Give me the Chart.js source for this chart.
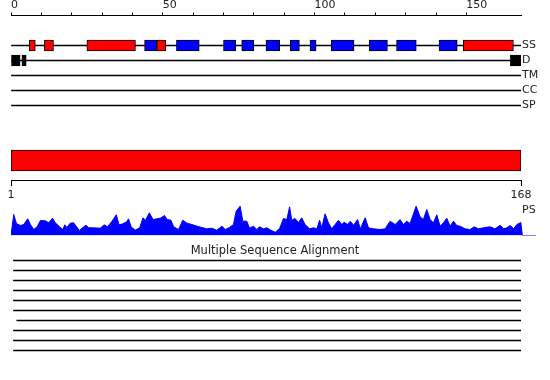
<!DOCTYPE html>
<html>
<head>
<meta charset="utf-8">
<script src="https://cdn.jsdelivr.net/npm/chart.js@4.4.0/dist/chart.umd.min.js"></script>
<style>
  body { margin: 0; background: #fff; }
  #wrap { position: relative; width: 550px; height: 380px; overflow: hidden; }
  canvas { position: absolute; left: 0; }
  #psLabel { position: absolute; left: 522px; top: 203px; font: 11px "DejaVu Sans"; color: #222; }
</style>
</head>
<body>
<div id="wrap">
  <canvas id="features" width="550" height="113" style="top:0"></canvas>
  <canvas id="domain" width="550" height="70" style="top:140px"></canvas>
  <canvas id="profile" width="550" height="37" style="top:199px"></canvas>
  <div id="psLabel">PS</div>
  <canvas id="msa" width="550" height="115" style="top:242px"></canvas>
</div>
<script>
const seqLength = 168;
const tracks = ['SS', 'D', 'TM', 'CC', 'SP'];

// secondary structure (residue ranges)
const helix = [[6, 8], [11, 14], [25, 41], [48, 51], [149, 165.5]];
const strand = [[44, 48], [54.5, 62], [70, 74], [76, 80], [84, 88.5], [92, 95], [98.5, 100.5],
  [105.5, 113], [118, 124], [127, 133.5], [141, 147]];
const disorder = [[0, 3], [3.6, 5], [164.5, 168]];

const domains = [[1, 168]];

// PS profile
const psPos = [0, 0.9, 1.8, 3.1, 4.2, 5.5, 6.4, 7.5, 8.6, 9.7, 11.3, 12.4, 13.7, 14.6, 16.0, 17.1, 17.7,
  18.4, 19.5, 20.6, 21.5, 22.5, 23.7, 24.7, 25.6, 27.2, 29.4, 30.7, 31.8, 33.3, 34.7, 35.6, 36.9, 38.2,
  38.7, 39.6, 40.9, 42.4, 43.5, 44.3, 45.6, 46.8, 48.1, 49.2, 50.6, 51.4, 52.7, 53.6, 55.2, 56.6, 58.0,
  59.6, 61.3, 62.9, 64.5, 66.2, 67.8, 69.5, 70.6, 72.0, 73.3, 74.2, 75.5, 76.4, 77.7, 78.6, 79.9, 81.0,
  81.9, 83.2, 84.3, 85.6, 87.1, 88.5, 89.8, 90.9, 91.8, 92.5, 93.6, 94.7, 95.8, 96.9, 98.4, 99.7, 100.8,
  101.7, 102.4, 103.5, 104.6, 105.7, 106.8, 107.9, 109.0, 109.8, 110.9, 111.8, 112.9, 114.2, 115.1,
  116.7, 117.8, 119.4, 121.6, 123.3, 124.9, 126.6, 128.2, 129.3, 130.4, 131.5, 133.5, 134.8, 135.9,
  137.0, 138.1, 139.2, 140.3, 141.4, 142.5, 143.6, 144.7, 145.8, 146.9, 148.0, 149.6, 151.3, 152.6,
  154.0, 155.7, 157.9, 159.5, 161.2, 162.3, 163.4, 164.5, 165.6, 166.7, 168.0, 168.5, 173];
const psScore = [0, 21, 12, 10, 11, 16.7, 11, 6, 8.7, 15, 14.7, 12.7, 17.3, 12.7, 8.7, 6, 10.7,
  8, 12.3, 12.7, 9.3, 5, 8, 10.3, 7.7, 7.7, 7.3, 10.7, 8.7, 14.3, 20.7, 10.7, 11.7, 14,
  16.7, 8.7, 5.3, 7.7, 17.7, 15.3, 22.7, 16, 16.7, 17.3, 20, 16, 15.3, 8.7, 6, 15.3, 12.3,
  11, 9.3, 8, 6.7, 7.3, 5.3, 9.3, 6, 8, 11, 24.3, 29.3, 14.3, 14.3, 7.3, 9.3, 6,
  8.7, 6.7, 7.7, 5.3, 3.3, 7, 17, 16, 28.7, 15.3, 17, 13, 17.7, 11, 6.7, 7.7, 6.7,
  15.3, 7.7, 21.7, 12.7, 6.7, 11, 15.3, 11, 13.3, 11, 14.3, 10.3, 16, 6.7,
  17.7, 7.7, 6.7, 6, 6.7, 14.3, 11, 16, 11, 14.3, 12, 29.3, 18.7, 16,
  26, 16, 12.7, 20.7, 9.3, 12.7, 17.3, 9.3, 14.3, 10, 9.3, 6.7, 6, 8.7,
  6.7, 7.7, 8.7, 6.7, 10.3, 6.7, 7.7, 10, 6.7, 11, 13, 0, 0];

// multiple sequence alignment coverage
const msaLabels = ['s1', 's2', 's3', 's4', 's5', 's6', 's7', 's8', 's9', 's10'];
const msaStart = [1.8, 1.8, 1.8, 1.8, 1.8, 1.8, 2.9, 1.8, 1.8, 1.8];
const msaEnd = [168, 168, 168, 168, 168, 168, 168, 168, 168, 168];

Chart.defaults.font.family = '"DejaVu Sans"';
Chart.defaults.color = '#222';
Chart.defaults.animation = false;
Chart.defaults.responsive = false;
Chart.defaults.devicePixelRatio = 1;
Chart.defaults.plugins.legend.display = false;
Chart.defaults.plugins.tooltip.enabled = false;

const box = { borderColor: '#000', borderWidth: 1, borderSkipped: false, grouped: false };

new Chart(document.getElementById('features'), {
  type: 'bar',
  data: {
    datasets: [
      { ...box, data: helix.map(r => ({ x: r, y: 0 })), backgroundColor: '#ff0000', barThickness: 11, order: 1 },
      { ...box, data: strand.map(r => ({ x: r, y: 0 })), backgroundColor: '#0000ff', barThickness: 11, order: 1 },
      { ...box, data: disorder.map(r => ({ x: r, y: 1 })), backgroundColor: '#000', barThickness: 11, order: 1 },
      { data: tracks.map((t, i) => ({ x: [0, seqLength], y: i })), backgroundColor: '#000',
        borderWidth: 0, barThickness: 1, grouped: false, order: 2 }
    ]
  },
  options: {
    indexAxis: 'y',
    layout: { padding: { left: 11, right: 0, top: 0, bottom: 0 } },
    scales: {
      x: {
        type: 'linear', position: 'top', min: 0, max: seqLength, offset: false,
        grid: { offset: false, drawOnChartArea: false, tickLength: 3, color: '#000' },
        border: { display: true, color: '#000', width: 1 },
        ticks: { stepSize: 10, align: 'start', padding: 1, font: { size: 11 },
          callback: v => (v % 50 === 0 ? v : '') },
        afterBuildTicks: s => { s.ticks = s.ticks.filter(t => t.value % 10 === 0); },
        afterFit: s => { s.height = 15.5; s.paddingLeft = 0; s.paddingRight = 0; }
      },
      y: {
        type: 'linear', position: 'right', reverse: true, min: -2, max: 4.5, offset: false,
        grid: { display: false, drawTicks: false, offset: false },
        border: { display: false },
        ticks: { padding: 1, font: { size: 11 }, callback: v => tracks[v] ?? '' },
        afterBuildTicks: s => { s.ticks = tracks.map((t, i) => ({ value: i })); },
        afterFit: s => { s.width = 29; s.paddingTop = 0; s.paddingBottom = 0; }
      }
    }
  }
});

new Chart(document.getElementById('domain'), {
  type: 'bar',
  data: {
    labels: ['domain'],
    datasets: [{ ...box, data: domains, backgroundColor: '#ff0000', barThickness: 21 }]
  },
  options: {
    indexAxis: 'y',
    layout: { padding: { left: 11, right: 29, top: 1, bottom: 0 } },
    scales: {
      x: {
        type: 'linear', position: 'bottom', min: 1, max: seqLength, offset: false,
        grid: { offset: false, drawOnChartArea: false, tickLength: 6, color: '#000' },
        border: { color: '#000' },
        ticks: { padding: 3, font: { size: 11 } },
        afterBuildTicks: s => { s.ticks = [{ value: 1 }, { value: seqLength }]; },
        afterFit: s => { s.height = 30; }
      },
      y: { display: false }
    }
  }
});

new Chart(document.getElementById('profile'), {
  type: 'line',
  data: {
    datasets: [{
      data: psPos.map((x, i) => ({ x: x, y: psScore[i] })),
      fill: 'origin', backgroundColor: '#0000ff', borderColor: '#0000ff',
      borderWidth: 1, pointRadius: 0, tension: 0
    }]
  },
  options: {
    layout: { padding: { left: 11, right: 14, top: 0.5, bottom: 0.5 } },
    scales: {
      x: { type: 'linear', min: 0, max: 173, display: false },
      y: { type: 'linear', min: 0, max: 36, display: false }
    }
  }
});

new Chart(document.getElementById('msa'), {
  type: 'bar',
  data: {
    labels: msaLabels,
    datasets: [{ data: msaStart.map((s, i) => [s, msaEnd[i]]), backgroundColor: '#000', borderWidth: 0, barThickness: 1 }]
  },
  options: {
    indexAxis: 'y',
    layout: { padding: { left: 0, right: 0, top: 0, bottom: 1.5 } },
    plugins: {
      title: { display: true, text: 'Multiple Sequence Alignment', padding: { top: 5, bottom: 0 },
        font: { size: 11.5, weight: 'normal', lineHeight: '8.5px' } }
    },
    scales: {
      x: { type: 'linear', min: 1, max: seqLength, display: false },
      y: { position: 'left', grid: { display: false, drawTicks: false }, border: { display: false },
        ticks: { display: false }, afterFit: s => { s.width = 11; } },
      pad: { type: 'linear', axis: 'y', position: 'right', grid: { display: false, drawTicks: false },
        border: { display: false }, ticks: { display: false }, afterFit: s => { s.width = 29; } }
    }
  }
});
</script>
</body>
</html>
